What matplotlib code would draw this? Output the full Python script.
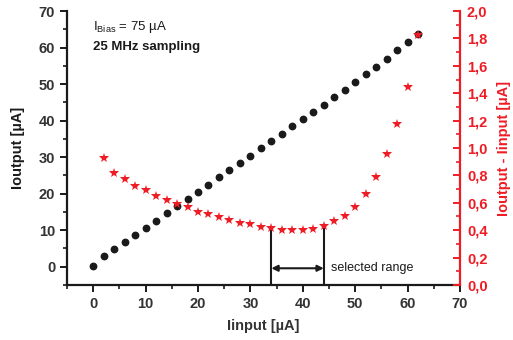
import matplotlib
matplotlib.use("Agg")
import matplotlib.pyplot as plt
from matplotlib.ticker import MultipleLocator, FuncFormatter

plt.rcParams['font.family'] = ['Liberation Sans', 'DejaVu Sans']

# Iinput [uA] for the black dots
iin = [0, 2, 4, 6, 8, 10, 12, 14, 16, 18, 20, 22, 24, 26, 28, 30,
       32, 34, 36, 38, 40, 42, 44, 46, 48, 50, 52, 54, 56, 58, 60, 62]
# Ioutput [uA]
iout = [0.3, 2.9, 4.8, 6.8, 8.7, 10.7, 12.6, 14.6, 16.6, 18.6, 20.5, 22.5,
        24.5, 26.5, 28.5, 30.4, 32.4, 34.4, 36.4, 38.4, 40.4, 42.4, 44.4,
        46.5, 48.5, 50.6, 52.7, 54.8, 57.0, 59.2, 61.4, 63.8]

# Ioutput - Iinput [uA] (red stars)
diff_x = [2, 4, 6, 8, 10, 12, 14, 16, 18, 20, 22, 24, 26, 28, 30,
          32, 34, 36, 38, 40, 42, 44, 46, 48, 50, 52, 54, 56, 58, 60, 62]
diff = [0.925, 0.82, 0.775, 0.725, 0.69, 0.65, 0.618, 0.59, 0.567, 0.535,
        0.516, 0.496, 0.474, 0.455, 0.443, 0.426, 0.414, 0.40, 0.40, 0.40,
        0.41, 0.433, 0.465, 0.506, 0.569, 0.664, 0.788, 0.954, 1.173,
        1.447, 1.825]

range_lo, range_hi = 34, 44
red = '#ee1c25'
dark = '#1a1a1a'

fig = plt.figure(figsize=(5.13, 3.40), dpi=100)
ax = fig.add_axes([0.1306, 0.1618, 0.7661, 0.8058])
ax2 = ax.twinx()

ax.plot(iin, iout, 'o', color=dark, markersize=4.6, zorder=3)
ax2.plot(diff_x, diff, '*', color=red, markersize=7.5, markeredgewidth=0, zorder=3)

# selected range markers
lo_val = diff[diff_x.index(range_lo)]
hi_val = diff[diff_x.index(range_hi)]
ax2.plot([range_lo, range_lo], [0, lo_val], color=dark, lw=1.5)
ax2.plot([range_hi, range_hi], [0, hi_val], color=dark, lw=1.5)
ax2.annotate('', xy=(range_lo, 0.122), xytext=(range_hi, 0.122),
             arrowprops=dict(arrowstyle='<|-|>', color=dark, lw=1.5,
                             mutation_scale=9, shrinkA=0, shrinkB=0))
ax2.text(45.4, 0.122, 'selected range', fontsize=9, color=dark,
         va='center', ha='left')

ax.set_xlim(-5, 70)
ax.set_ylim(-5, 70)
ax2.set_ylim(0, 2.0)

for a in (ax, ax2):
    a.spines['top'].set_visible(False)
ax.spines['right'].set_visible(False)
for s in ('left', 'bottom'):
    ax.spines[s].set_linewidth(1.6)
    ax.spines[s].set_color(dark)
ax2.spines['right'].set_linewidth(1.6)
ax2.spines['right'].set_color(red)
ax2.spines['left'].set_visible(False)
ax2.spines['bottom'].set_visible(False)

ax.xaxis.set_major_locator(MultipleLocator(10))
ax.xaxis.set_minor_locator(MultipleLocator(5))
ax.yaxis.set_major_locator(MultipleLocator(10))
ax.yaxis.set_minor_locator(MultipleLocator(5))
ax2.yaxis.set_major_locator(MultipleLocator(0.2))
ax2.yaxis.set_minor_locator(MultipleLocator(0.1))
ax2.yaxis.set_major_formatter(FuncFormatter(lambda v, p: ('%.1f' % v).replace('.', ',')))

ax.tick_params(axis='both', which='major', length=5, width=1.4, labelsize=10.5,
               color=dark, labelcolor='#333333', direction='out')
ax.tick_params(axis='both', which='minor', length=3, width=1.2, color=dark,
               direction='out')
ax.tick_params(axis='x', which='major', pad=4)
ax2.tick_params(axis='y', which='major', length=5, width=1.4, labelsize=10.5,
                color=red, labelcolor=red, direction='in', pad=5)
ax2.tick_params(axis='y', which='minor', length=3, width=1.2, color=red,
                direction='in')

for lab in ax.get_xticklabels() + ax.get_yticklabels() + ax2.get_yticklabels():
    lab.set_fontweight('bold')

ax.set_xlabel('Iinput [µA]', fontsize=10.5, fontweight='bold', color='#333333')
ax.xaxis.set_label_coords(0.5, -0.125)
ax.set_ylabel('Ioutput [µA]', fontsize=10.5, fontweight='bold', color=dark, labelpad=10)
ax2.set_ylabel('Ioutput - Iinput [µA]', fontsize=10.5, fontweight='bold', color=red, labelpad=7)

ax.text(0.066, 0.97, r'I$_{\mathregular{Bias}}$ = 75 µA', transform=ax.transAxes,
        fontsize=9.5, color=dark, va='top', ha='left')
ax.text(0.066, 0.89, '25 MHz sampling', transform=ax.transAxes,
        fontsize=9.5, fontweight='bold', color=dark, va='top', ha='left')

fig.savefig('out.png', dpi=100)
